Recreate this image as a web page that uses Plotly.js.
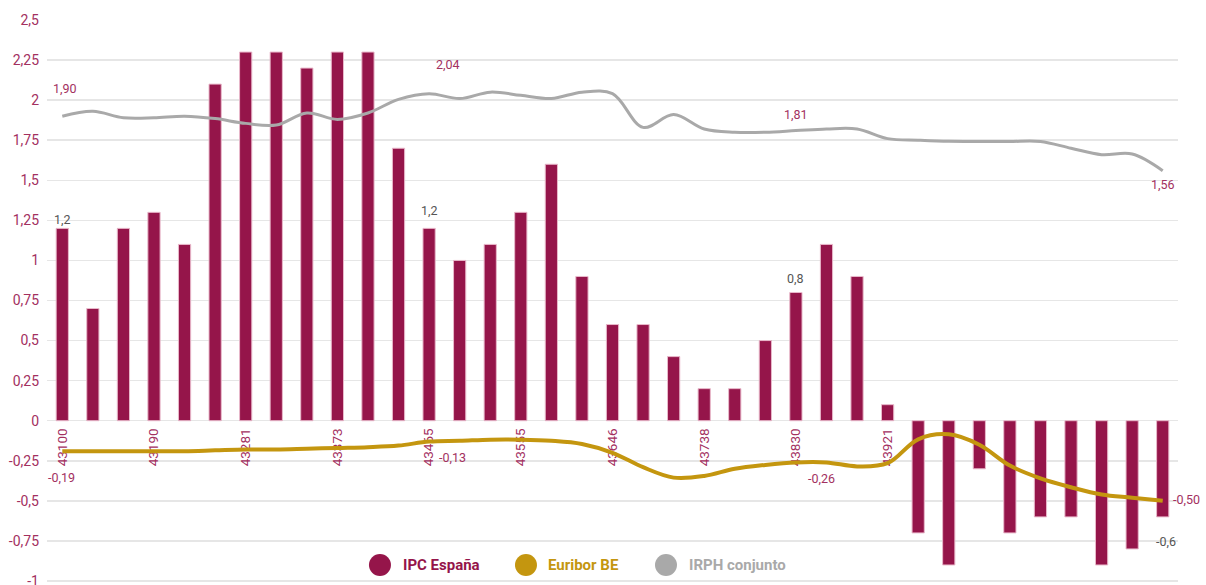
<!DOCTYPE html>
<html>
<head>
<meta charset="utf-8">
<script src="https://cdn.plot.ly/plotly-3.0.1.min.js"></script>
<style>
  html, body { margin: 0; padding: 0; background: #ffffff; }
  #chart { width: 1206px; height: 585px; }
</style>
</head>
<body>
<div id="chart"></div>
<script>
// Month-end date serials (categories)
const months = ["43100","43131","43159","43190","43220","43251","43281","43312","43343","43373",
  "43404","43434","43465","43496","43524","43555","43585","43616","43646","43677",
  "43708","43738","43769","43799","43830","43861","43890","43921","43951","43982",
  "44012","44043","44074","44104","44135","44165","44196"];

// Tick labels shown on the x axis
const tickLabels = ["43100","43190","43281","43373","43465","43555","43646","43738","43830","43921","44012","44104","44196"];

// IPC España (bars)
const ipc = [1.2, 0.7, 1.2, 1.3, 1.1, 2.1, 2.3, 2.3, 2.2, 2.3,
  2.3, 1.7, 1.2, 1.0, 1.1, 1.3, 1.6, 0.9, 0.6, 0.6,
  0.4, 0.2, 0.2, 0.5, 0.8, 1.1, 0.9, 0.1, -0.7, -0.9,
  -0.3, -0.7, -0.6, -0.6, -0.9, -0.8, -0.6];

// Euribor BE (line)
const euribor = [-0.19, -0.19, -0.19, -0.19, -0.19, -0.185, -0.18, -0.18, -0.175, -0.17,
  -0.165, -0.155, -0.13, -0.125, -0.118, -0.118, -0.125, -0.145, -0.20, -0.29,
  -0.355, -0.345, -0.30, -0.276, -0.26, -0.26, -0.285, -0.265, -0.116, -0.085,
  -0.15, -0.28, -0.36, -0.415, -0.46, -0.48, -0.50];

// IRPH conjunto (line)
const irph = [1.90, 1.93, 1.89, 1.89, 1.90, 1.885, 1.855, 1.845, 1.92, 1.88,
  1.92, 2.005, 2.04, 2.01, 2.05, 2.03, 2.01, 2.05, 2.04, 1.83,
  1.91, 1.82, 1.80, 1.80, 1.81, 1.82, 1.82, 1.76, 1.75, 1.743,
  1.742, 1.742, 1.742, 1.70, 1.66, 1.664, 1.56];

// Y tick values / labels
const yTickVals = [-1, -0.75, -0.5, -0.25, 0, 0.25, 0.5, 0.75, 1, 1.25, 1.5, 1.75, 2, 2.25, 2.5];
const yTickText = ["-1", "-0,75", "-0,5", "-0,25", "0", "0,25", "0,5", "0,75", "1", "1,25", "1,5", "1,75", "2", "2,25", "2,5"];

// Series names and colours
const seriesNames = ["IPC España", "Euribor BE", "IRPH conjunto"];
const colors = { ipc: "#95154A", euribor: "#C4960F", irph: "#A9A9A9" };

const fmt = v => v.toFixed(2).replace(".", ",");
const fmt1 = v => v.toFixed(1).replace(".", ",");

const traces = [
  {
    type: "bar", x: months, y: ipc, name: seriesNames[0], showlegend: false,
    width: 0.4,
    marker: { color: colors.ipc, line: { color: "#E9B9CB", width: 1 } }
  },
  {
    type: "scatter", mode: "lines", x: months, y: euribor, name: seriesNames[1], showlegend: false,
    line: { color: colors.euribor, width: 4, shape: "spline", smoothing: 1 }
  },
  {
    type: "scatter", mode: "lines", x: months, y: irph, name: seriesNames[2], showlegend: false,
    line: { color: colors.irph, width: 3, shape: "spline", smoothing: 1 }
  }
];

const last = months.length - 1;
const crimsonText = "#A3305F";
const grayText = "#555555";
// Category axes take the category index for annotation positions
const annotations = [
  // IRPH labels
  { i: 0, y: irph[0], text: fmt(irph[0]), yshift: 28, xshift: 3, color: crimsonText },
  { i: 12, y: irph[12], text: fmt(irph[12]), yshift: 29, xshift: 19, color: crimsonText },
  { i: 24, y: irph[24], text: fmt(irph[24]), yshift: 16, xshift: 0, color: crimsonText },
  { i: last, y: irph[last], text: fmt(irph[last]), yshift: -14, xshift: 0, color: crimsonText },
  // Euribor labels
  { i: 0, y: euribor[0], text: fmt(euribor[0]), yshift: -26, xshift: -1, color: crimsonText },
  { i: 12, y: euribor[12], text: fmt(euribor[12]), yshift: -16, xshift: 23, color: crimsonText },
  { i: 24, y: euribor[24], text: fmt(euribor[24]), yshift: -16, xshift: 26, color: crimsonText },
  { i: last, y: euribor[last], text: fmt(euribor[last]), yshift: 1, xshift: 24, color: crimsonText },
  // IPC labels
  { i: 0, y: ipc[0], text: fmt1(ipc[0]), yshift: 9, xshift: 0, color: grayText },
  { i: 12, y: ipc[12], text: fmt1(ipc[12]), yshift: 18, xshift: 0, color: grayText },
  { i: 24, y: ipc[24], text: fmt1(ipc[24]), yshift: 14, xshift: 0, color: grayText },
  { i: last, y: ipc[last], text: fmt1(ipc[last]), yshift: -25, xshift: 3, color: grayText }
].map(a => ({
  x: a.i, y: a.y, xref: "x", yref: "y", text: a.text, showarrow: false,
  xshift: a.xshift, yshift: a.yshift,
  font: { family: "Roboto, sans-serif", size: 12.5, color: a.color }
}));

// Custom legend (large circular markers)
const legendItems = [
  { name: seriesNames[0], color: colors.ipc, cx: 0.2944, tx: 0.3130 },
  { name: seriesNames[1], color: colors.euribor, cx: 0.4235, tx: 0.4415 },
  { name: seriesNames[2], color: colors.irph, cx: 0.5473, tx: 0.5655 }
];
const legendY = 0.032;
const shapes = legendItems.map(it => ({
  type: "circle", xref: "paper", yref: "paper",
  xsizemode: "pixel", ysizemode: "pixel",
  xanchor: it.cx, yanchor: legendY,
  x0: -11, x1: 11, y0: -11, y1: 11,
  fillcolor: it.color, line: { width: 0 }, layer: "above"
}));
legendItems.forEach(it => {
  annotations.push({
    xref: "paper", yref: "paper", x: it.tx, y: legendY, xanchor: "left", yanchor: "middle",
    text: "<b>" + it.name + "</b>", showarrow: false,
    font: { family: "Roboto, sans-serif", size: 15, color: it.color }
  });
});

const yMin = -1.0125, yMax = 2.5;

const layout = {
  width: 1206, height: 585,
  margin: { l: 47, r: 28, t: 20, b: 2 },
  paper_bgcolor: "#ffffff", plot_bgcolor: "#ffffff",
  showlegend: false,
  xaxis: {
    type: "category",
    categoryorder: "array", categoryarray: months,
    range: [-0.5, 36.5],
    anchor: "free", position: (0 - yMin) / (yMax - yMin),
    tickmode: "array", tickvals: tickLabels, ticktext: tickLabels,
    tickangle: -90,
    ticks: "", showgrid: false, zeroline: false, showline: false,
    layer: "below traces",
    ticklabelstandoff: 4,
    tickfont: { family: "Roboto, sans-serif", size: 13.5, color: "#A3305F" }
  },
  yaxis: {
    range: [yMin, yMax],
    tickmode: "array", tickvals: yTickVals, ticktext: yTickText,
    showgrid: true, gridcolor: "#E6E6E6", gridwidth: 1.5,
    zeroline: true, zerolinecolor: "#E6E6E6", zerolinewidth: 1.5,
    showline: false, ticks: "",
    ticklabelstandoff: 7,
    ticklabeloverflow: "allow",
    tickfont: { family: "Roboto, sans-serif", size: 14, color: "#A3305F" }
  },
  annotations: annotations,
  shapes: shapes,
  hovermode: false
};

Plotly.newPlot("chart", traces, layout, { staticPlot: true, displayModeBar: false });
</script>
</body>
</html>
